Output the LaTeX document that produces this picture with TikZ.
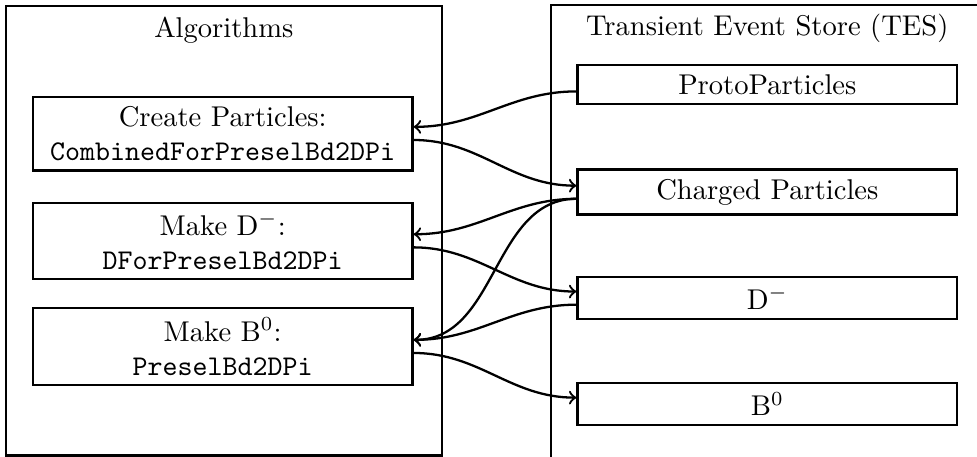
\documentclass[tikz,border=0pt]{standalone}
\usetikzlibrary{positioning}

\begin{document}
\begin{tikzpicture}[
        node distance=0.4cm,
        panel/.style={draw, thick, rectangle, minimum width=5.36cm, minimum height=5.53cm, anchor=north west},
        algbox/.style={draw, thick, rectangle, minimum width=4.67cm, align=center},
        tesbox/.style={draw, thick, rectangle, minimum width=4.67cm},
        arrow/.style={->, thick}
    ]
    \useasboundingbox (0,0) rectangle (12.02,-5.62);

    % Algorithms
    \node[panel] (algs) at (0.06,-0.06) {};
    \node[below=0.02cm of algs.north] (algtitle) {Algorithms};
    \node[algbox] (create) at (2.74,-1.645) {Create Particles:\\\texttt{CombinedForPreselBd2DPi}};
    \node[algbox, below=0.37cm of create] (maked) {Make D$^-$:\\\texttt{DForPreselBd2DPi}};
    \node[algbox, below=0.33cm of maked] (makeb) {Make B$^0$:\\\texttt{PreselBd2DPi}};

    % Transient Event Store
    \coordinate (tescorner) at (6.78,-0.06);
    \coordinate (tesbottom) at (6.78,-5.62);
    \coordinate (tesright) at (12.02,-0.06);
    \draw[thick] (tesbottom) -- (tescorner) -- (tesright);
    \node (testitle) at (9.44,-0.35) {Transient Event Store (TES)};
    \node[tesbox] (proto) at (9.44,-1.04) {ProtoParticles};
    \node[tesbox, below=0.775cm of proto] (charged) {Charged Particles};
    \node[tesbox, below=0.74cm of charged] (dminus) {D$^-$};
    \node[tesbox, below=0.76cm of dminus] (bzero) {B$^0$};

    % Arrows
    \draw[arrow] ([yshift=-2.4pt]proto.west) to[out=180, in=0] ([yshift=2.4pt]create.east);
    \draw[arrow] ([yshift=-2.2pt]create.east) to[out=0, in=180] ([yshift=2.2pt]charged.west);
    \draw[arrow] ([yshift=-2.4pt]charged.west) to[out=180, in=0] ([yshift=2.4pt]maked.east);
    \draw[arrow] ([yshift=-2.4pt]charged.west) to[out=180, in=0] ([yshift=2.4pt]makeb.east);
    \draw[arrow] ([yshift=-2.2pt]maked.east) to[out=0, in=180] ([yshift=2.2pt]dminus.west);
    \draw[arrow] ([yshift=-2.4pt]dminus.west) to[out=180, in=0] ([yshift=2.4pt]makeb.east);
    \draw[arrow] ([yshift=-2.2pt]makeb.east) to[out=0, in=180] ([yshift=2.2pt]bzero.west);
\end{tikzpicture}
\end{document}
